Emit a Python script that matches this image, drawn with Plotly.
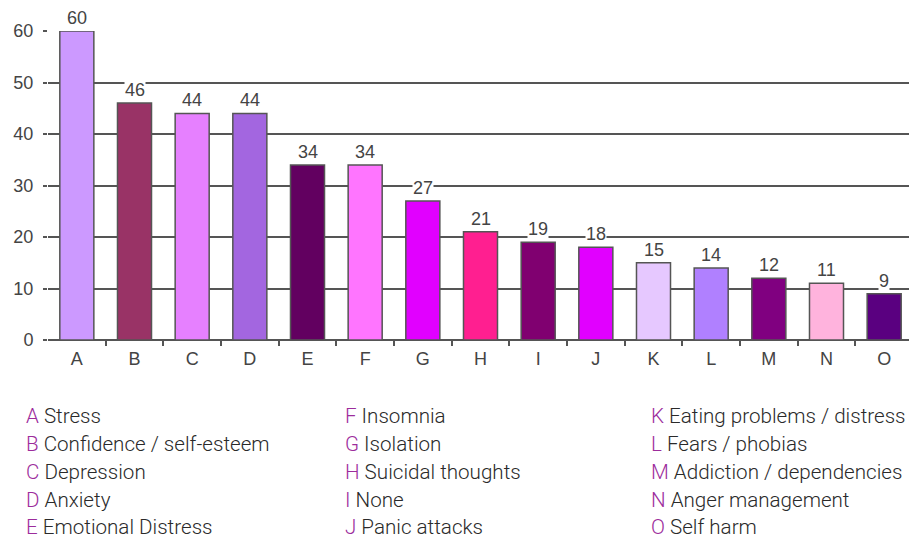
import plotly.graph_objects as go

categories = ["A", "B", "C", "D", "E", "F", "G", "H", "I", "J", "K", "L", "M", "N", "O"]
values = [60, 46, 44, 44, 34, 34, 27, 21, 19, 18, 15, 14, 12, 11, 9]
bar_colors = ["#CC99FF", "#993366", "#E680FF", "#A366E0", "#620060", "#FF75FF", "#E100FF",
              "#FF1F90", "#800070", "#E100FF", "#E6C8FF", "#B080FF", "#800080", "#FFB3DD", "#5A0080"]
descriptions = ["Stress", "Confidence / self-esteem", "Depression", "Anxiety", "Emotional Distress",
                "Insomnia", "Isolation", "Suicidal thoughts", "None", "Panic attacks",
                "Eating problems / distress", "Fears / phobias", "Addiction / dependencies",
                "Anger management", "Self harm"]
y_ticks = [0, 10, 20, 30, 40, 50, 60]

OFF = 8  # page body margin
W, H = 917 - OFF, 538 - OFF
ML, MR, MT, MB = 48 - OFF, 4, 31 - OFF, 198
PW, PH = W - ML - MR, H - MT - MB

fig = go.Figure()
fig.add_trace(go.Bar(
    x=categories, y=values,
    marker=dict(color=bar_colors, line=dict(color="#555555", width=1.5)),
    width=0.59, hoverinfo="x+y",
))
# invisible helper trace on a linear overlay axis that carries the boundary ticks
fig.add_trace(go.Scatter(x=[0, len(categories) - 1], y=[0, 0], xaxis="x2", mode="none",
                         hoverinfo="skip", showlegend=False))

annotations = []
for c, v in zip(categories, values):
    annotations.append(dict(
        x=c, y=v, xref="x", yref="y", text=str(v), showarrow=False,
        yanchor="bottom", yshift=2, bgcolor="white", borderpad=0,
        font=dict(family="Liberation Sans, Arial", size=18, color="#444444"),
    ))

col_x = [27, 346, 652]
row_y = [416, 444, 472, 500, 527]
for i, (c, d) in enumerate(zip(categories, descriptions)):
    col, row = divmod(i, 5)
    annotations.append(dict(
        x=(col_x[col] - OFF - ML - 2) / PW, y=(MT + PH - (row_y[row] - OFF)) / PH,
        xref="paper", yref="paper", xanchor="left", yanchor="middle",
        showarrow=False, align="left", borderpad=0,
        text=f'<span style="color:#9C2C9C">{c}</span> {d}',
        font=dict(family="Roboto, Liberation Sans, Arial", size=20.6, color="#2a2a2a", weight=300),
    ))

fig.update_layout(
    width=W, height=H,
    margin=dict(l=ML, r=MR, t=MT, b=MB),
    paper_bgcolor="white", plot_bgcolor="white",
    showlegend=False,
    annotations=annotations,
    font=dict(family="Liberation Sans, Arial", size=17, color="#444444"),
    xaxis=dict(
        type="category", range=[-0.5, len(categories) - 0.5],
        ticks="", showgrid=False, showline=False, zeroline=False, ticklabelstandoff=6,
        tickfont=dict(family="Liberation Sans, Arial", size=18, color="#444444"),
    ),
    xaxis2=dict(
        overlaying="x", anchor="y", side="bottom", range=[-0.5, len(categories) - 0.5],
        tickvals=[i + 0.5 for i in range(len(categories) - 1)], showticklabels=False,
        ticks="outside", ticklen=5, tickwidth=1.5, tickcolor="#555555",
        showgrid=False, showline=False, zeroline=False,
    ),
    yaxis=dict(
        range=[0, 60], tickvals=y_ticks, ticks="outside", ticklen=4, tickwidth=1.5,
        tickcolor="#555555", showgrid=True, gridcolor="#555555", gridwidth=1.5,
        zeroline=True, zerolinecolor="#555555", zerolinewidth=1.5,
        showline=False, ticklabelstandoff=6,
        tickfont=dict(family="Liberation Sans, Arial", size=18, color="#444444"),
    ),
    shapes=[dict(type="line", xref="paper", yref="paper", x0=1, x1=1, y0=-5 / PH, y1=1,
                 line=dict(color="#555555", width=2), layer="below")],
)

fig.write_html("out.html")
